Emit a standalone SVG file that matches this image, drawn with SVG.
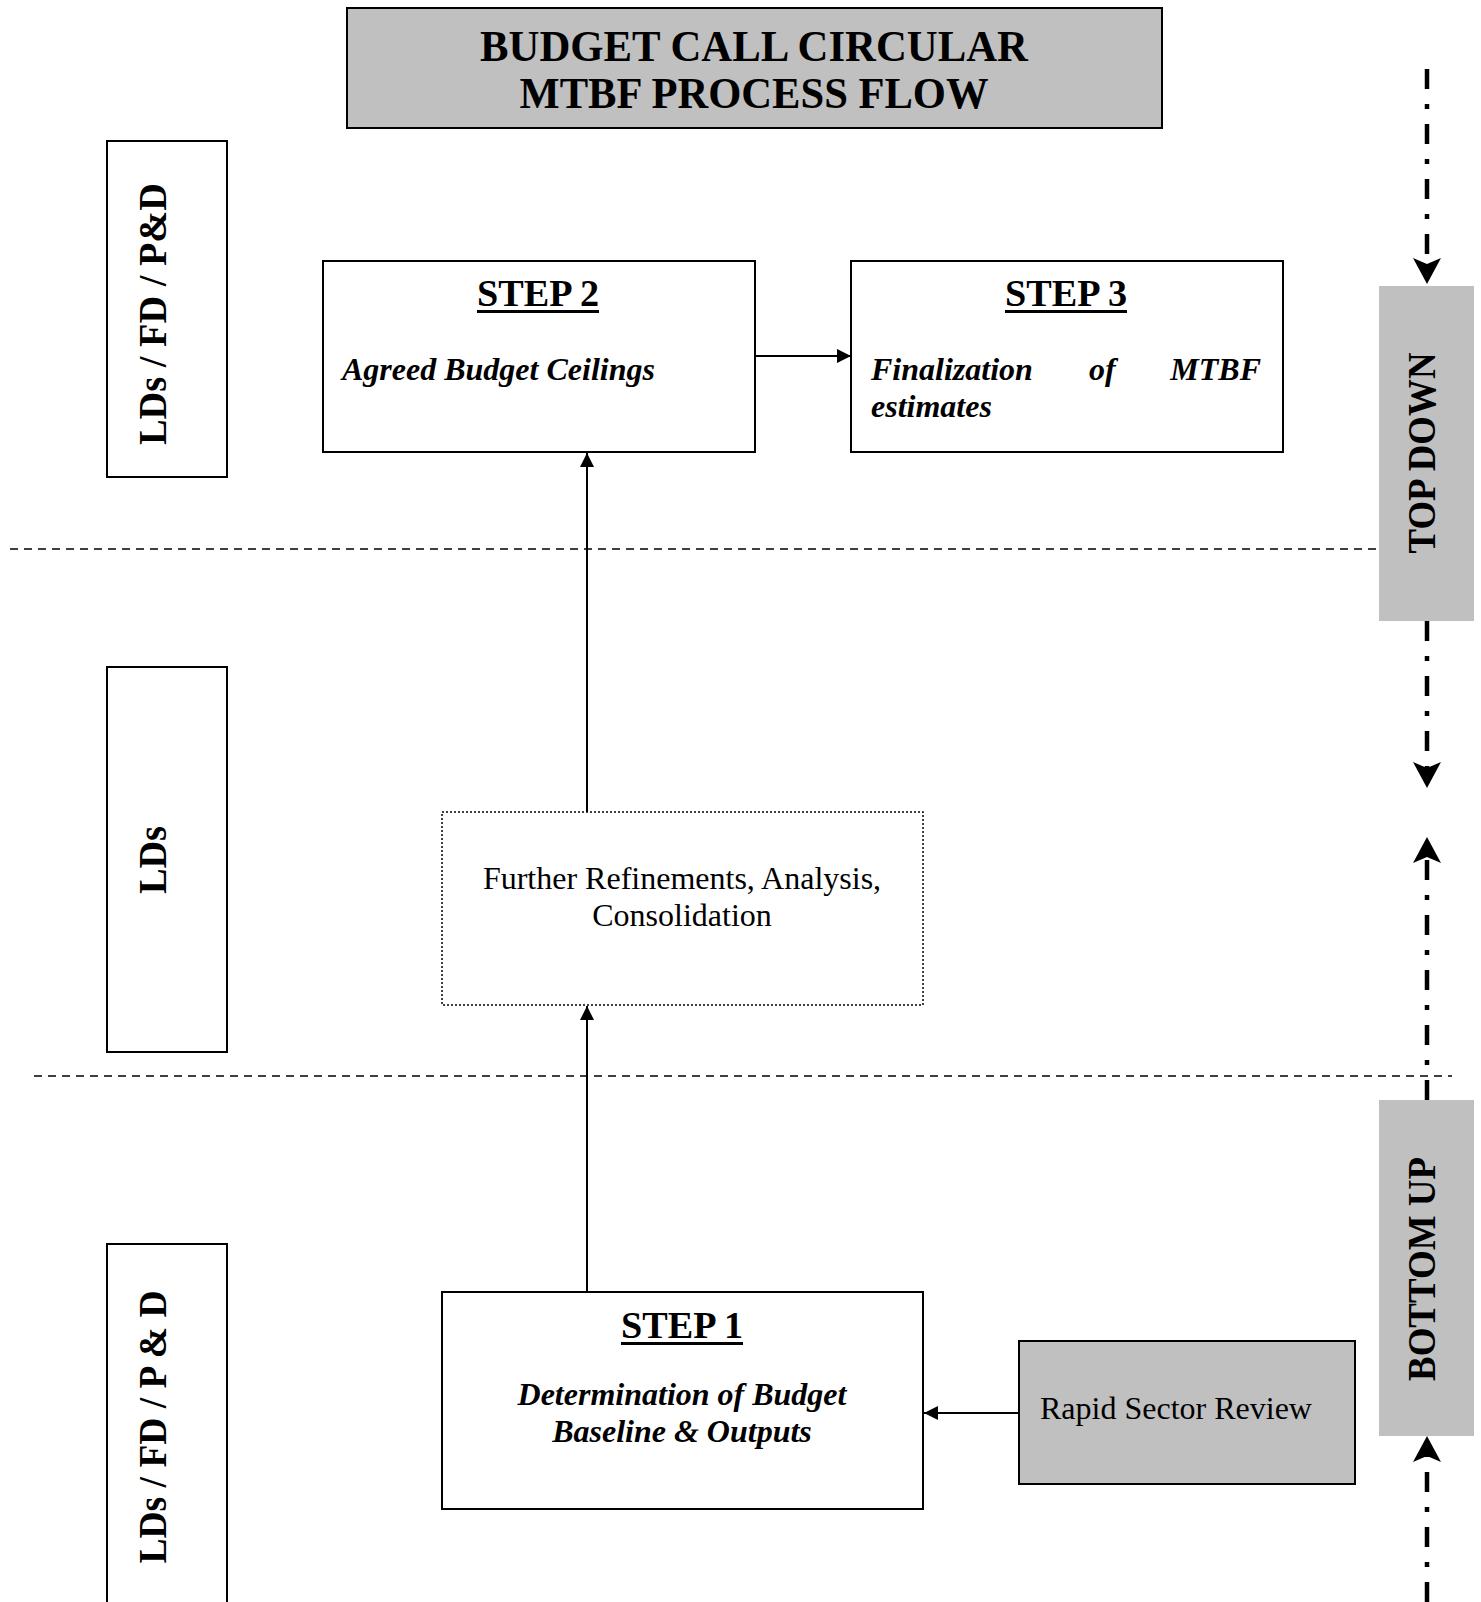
<svg xmlns="http://www.w3.org/2000/svg" width="1481" height="1602" viewBox="0 0 1481 1602">
<defs>
<style>
.box{fill:#fff;stroke:#000;stroke-width:2}
.gray{fill:#c0c0c0;stroke:#000;stroke-width:2}
.band{fill:#c0c0c0;stroke:none}
.dot{fill:#fff;stroke:#000;stroke-width:1.5;stroke-dasharray:2,2}
.t{font-family:"Liberation Serif","Times New Roman",serif;fill:#000}
.b{font-weight:bold}
.i{font-style:italic}
.con{fill:none;stroke:#000;stroke-width:2}
.sep{fill:none;stroke:#000;stroke-width:1.6;stroke-dasharray:8,6}
.dd{fill:none;stroke:#000;stroke-width:4.5;stroke-dasharray:20,15,5,15}
</style>
<marker id="tri" markerUnits="userSpaceOnUse" viewBox="0 0 14 14" markerWidth="14" markerHeight="14" refX="14" refY="7" orient="auto">
<path d="M0,0 L14,7 L0,14 z" fill="#000"/>
</marker>
<marker id="barb" markerUnits="userSpaceOnUse" viewBox="0 0 26 28" markerWidth="26" markerHeight="28" refX="14" refY="14" orient="auto">
<path d="M0,0 L26,14 L0,28 L6,14 z" fill="#000"/>
</marker>
</defs>

<g id="title">
<rect class="gray" x="347" y="8" width="815" height="120"/>
<text class="t b" x="754" y="61" font-size="44" text-anchor="middle" textLength="548" lengthAdjust="spacingAndGlyphs">BUDGET CALL CIRCULAR</text>
<text class="t b" x="754" y="108" font-size="44" text-anchor="middle" textLength="469" lengthAdjust="spacingAndGlyphs">MTBF PROCESS FLOW</text>
</g>

<g id="connectors">
<line class="sep" x1="10" y1="549" x2="1377" y2="549"/>
<line class="sep" x1="34" y1="1076" x2="1452" y2="1076"/>
<line class="con" x1="755" y1="356" x2="851" y2="356" marker-end="url(#tri)"/>
<line class="con" x1="587" y1="812" x2="587" y2="453" marker-end="url(#tri)"/>
<line class="con" x1="587" y1="1292" x2="587" y2="1006" marker-end="url(#tri)"/>
<line class="con" x1="1018" y1="1413" x2="924" y2="1413" marker-end="url(#tri)"/>
<line class="dd" x1="1427" y1="69" x2="1427" y2="272" marker-end="url(#barb)"/>
<line class="dd" x1="1427" y1="621" x2="1427" y2="776" marker-end="url(#barb)"/>
<line class="dd" x1="1427" y1="1100" x2="1427" y2="849" marker-end="url(#barb)"/>
<line class="dd" x1="1427" y1="1602" x2="1427" y2="1448" marker-end="url(#barb)"/>
</g>

<g id="lane-top">
<rect class="box" x="107" y="141" width="120" height="336"/>
<text class="t b" transform="translate(166,314) rotate(-90)" font-size="40" text-anchor="middle" textLength="262" lengthAdjust="spacingAndGlyphs">LDs / FD / P&amp;D</text>
</g>

<g id="lane-mid">
<rect class="box" x="107" y="667" width="120" height="385"/>
<text class="t b" transform="translate(166,860) rotate(-90)" font-size="40" text-anchor="middle" textLength="68" lengthAdjust="spacingAndGlyphs">LDs</text>
</g>

<g id="lane-bottom">
<rect class="box" x="107" y="1244" width="120" height="370"/>
<text class="t b" transform="translate(166,1427) rotate(-90)" font-size="40" text-anchor="middle" textLength="273" lengthAdjust="spacingAndGlyphs">LDs / FD / P &amp; D</text>
</g>

<g id="step2">
<rect class="box" x="323" y="261" width="432" height="191"/>
<text class="t b" x="538" y="306" font-size="38" text-anchor="middle" textLength="122" lengthAdjust="spacingAndGlyphs">STEP 2</text>
<rect x="477" y="310" width="122" height="3" fill="#000"/>
<text class="t b i" x="342" y="380" font-size="32">Agreed Budget Ceilings</text>
</g>

<g id="step3">
<rect class="box" x="851" y="261" width="432" height="191"/>
<text class="t b" x="1066" y="306" font-size="38" text-anchor="middle" textLength="122" lengthAdjust="spacingAndGlyphs">STEP 3</text>
<rect x="1005" y="310" width="122" height="3" fill="#000"/>
<text class="t b i" x="871" y="380" font-size="32">Finalization</text>
<text class="t b i" x="1089" y="380" font-size="32">of</text>
<text class="t b i" x="1261" y="380" font-size="32" text-anchor="end">MTBF</text>
<text class="t b i" x="871" y="417" font-size="32">estimates</text>
</g>

<g id="refine">
<rect class="dot" x="442" y="812" width="481" height="193"/>
<text class="t" x="682" y="889" font-size="32" text-anchor="middle">Further Refinements, Analysis,</text>
<text class="t" x="682" y="926" font-size="32" text-anchor="middle">Consolidation</text>
</g>

<g id="step1">
<rect class="box" x="442" y="1292" width="481" height="217"/>
<text class="t b" x="682" y="1338" font-size="38" text-anchor="middle" textLength="122" lengthAdjust="spacingAndGlyphs">STEP 1</text>
<rect x="621" y="1342" width="122" height="3" fill="#000"/>
<text class="t b i" x="682" y="1405" font-size="32" text-anchor="middle">Determination of Budget</text>
<text class="t b i" x="682" y="1442" font-size="32" text-anchor="middle">Baseline &amp; Outputs</text>
</g>

<g id="rapid">
<rect class="gray" x="1019" y="1341" width="336" height="143"/>
<text class="t" x="1040" y="1419" font-size="32">Rapid Sector Review</text>
</g>

<g id="topdown">
<rect class="band" x="1379" y="286" width="95" height="335"/>
<text class="t b" transform="translate(1435,453) rotate(-90)" font-size="40" text-anchor="middle" textLength="201" lengthAdjust="spacingAndGlyphs">TOP DOWN</text>
</g>

<g id="bottomup">
<rect class="band" x="1379" y="1100" width="95" height="336"/>
<text class="t b" transform="translate(1435,1269) rotate(-90)" font-size="40" text-anchor="middle" textLength="224" lengthAdjust="spacingAndGlyphs">BOTTOM UP</text>
</g>
</svg>
